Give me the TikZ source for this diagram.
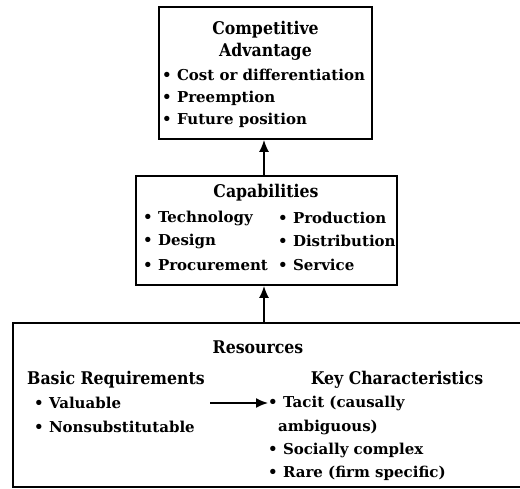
\documentclass[tikz,border=0pt]{standalone}
\usepackage{fontspec}
\setmainfont{DejaVu Serif}
\newfontfamily\condf{DejaVu Serif Condensed}
\usetikzlibrary{arrows.meta}
\begin{document}
\begin{tikzpicture}[x=1pt,y=-1pt,
  box/.style={draw,line width=1.8pt,inner sep=0pt},
  ttl/.style={font=\condf\fontsize{17.5}{19}\selectfont\bfseries,inner sep=0pt},
  itm/.style={font=\fontsize{15}{18}\selectfont\bfseries,anchor=west,inner sep=0pt},
  arr/.style={-{Latex[length=12pt,width=10pt]},line width=1.6pt}]
\useasboundingbox (0,0) rectangle (520,488);
% boxes
\node[box,minimum width=213pt,minimum height=132pt] (ca) at (265.5,73) {};
\node[box,minimum width=261pt,minimum height=109pt] (cap) at (266.5,230.5) {};
\node[box,minimum width=517pt,minimum height=164pt] (res) at (271.5,405) {};
% top box text
\node[ttl] (t1) at (265.5,30) {Competitive};
\node[ttl] (t2) at (265.5,52) {Advantage};
\node[itm] (c1) at (162,75) {• Cost or differentiation};
\node[itm] (c2) at (162,98) {• Preemption};
\node[itm] (c3) at (162,120) {• Future position};
% middle box text
\node[ttl] (t3) at (266,193) {Capabilities};
\node[itm] (m1) at (143,218) {• Technology};
\node[itm] (m2) at (143,241) {• Design};
\node[itm] (m3) at (143,265) {• Procurement};
\node[itm] (m4) at (278,218) {• Production};
\node[itm] (m5) at (278,241) {• Distribution};
\node[itm] (m6) at (278,265) {• Service};
% bottom box text
\node[ttl] (t4) at (258,347) {Resources};
\node[ttl,anchor=west] (br) at (27,380) {Basic Requirements};
\node[itm] (b1) at (34,403) {• Valuable};
\node[itm] (b2) at (34,427) {• Nonsubstitutable};
\node[ttl] (kc) at (397,380) {Key Characteristics};
\node[itm] (k1) at (268,403) {• Tacit (causally};
\node[itm] (k2) at (278,427) {ambiguous)};
\node[itm] (k3) at (268,450) {• Socially complex};
\node[itm] (k4) at (268,473) {• Rare (firm specific)};
% arrows
\draw[arr] (cap.north -| 264,0) -- (ca.south -| 264,0);
\draw[arr] (res.north -| 264,0) -- (cap.south -| 264,0);
\coordinate (a0) at (210,403);
\draw[arr] (a0) -- (k1.west);
\end{tikzpicture}
\end{document}
